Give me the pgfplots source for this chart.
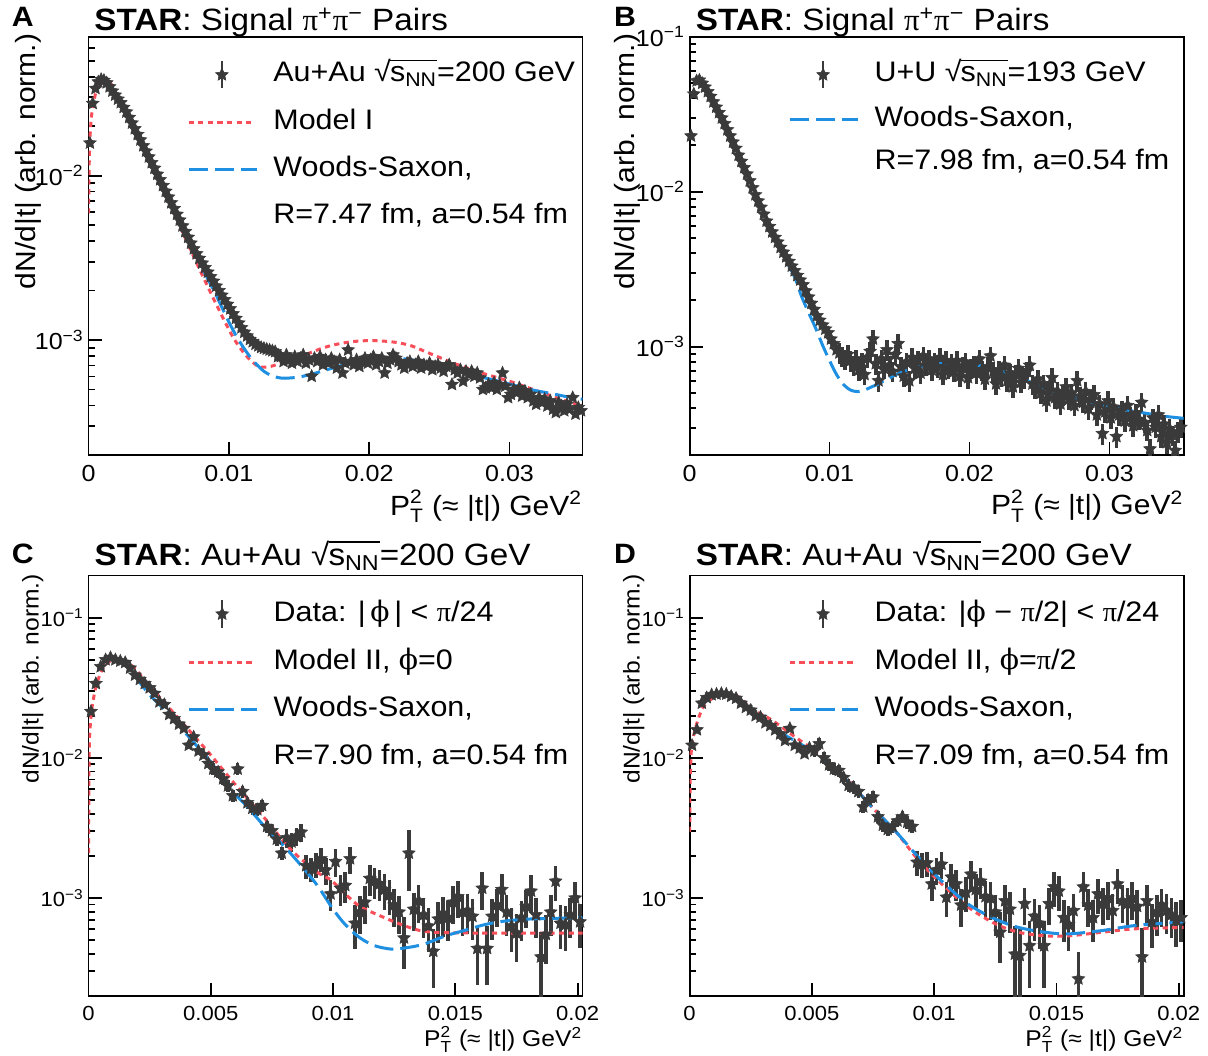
\documentclass[border=0pt]{standalone}
\usepackage{amsmath}
\usepackage{fontspec}
\setmainfont{Liberation Sans}[FakeStretch=1.08]
\newfontfamily\grk{Liberation Serif}
\newfontfamily\phif{DejaVu Serif}
\usepackage{pgfplots}
\pgfplotsset{compat=1.18}
\definecolor{datgray}{HTML}{3A3A3A}
\definecolor{redm}{HTML}{F84E5A}
\definecolor{bluews}{HTML}{1E8FE1}

% filled five-pointed star, like ROOT marker 29
\pgfdeclareplotmark{fstar}{%
  \pgfpathmoveto{\pgfpointpolar{90}{\pgfplotmarksize}}%
  \pgfpathlineto{\pgfpointpolar{126}{0.48\pgfplotmarksize}}%
  \pgfpathlineto{\pgfpointpolar{162}{\pgfplotmarksize}}%
  \pgfpathlineto{\pgfpointpolar{198}{0.48\pgfplotmarksize}}%
  \pgfpathlineto{\pgfpointpolar{234}{\pgfplotmarksize}}%
  \pgfpathlineto{\pgfpointpolar{270}{0.48\pgfplotmarksize}}%
  \pgfpathlineto{\pgfpointpolar{306}{\pgfplotmarksize}}%
  \pgfpathlineto{\pgfpointpolar{342}{0.48\pgfplotmarksize}}%
  \pgfpathlineto{\pgfpointpolar{18}{\pgfplotmarksize}}%
  \pgfpathlineto{\pgfpointpolar{54}{0.48\pgfplotmarksize}}%
  \pgfpathclose
  \pgfusepathqfillstroke}

% sqrt(s_NN) built from the text radical, as ROOT draws it
\newlength\snnw \newlength\snnh
\newcommand{\sNN}{%
  \settowidth{\snnw}{s\textsubscript{NN}}%
  \settoheight{\snnh}{√}%
  √\kern-0.03em\rlap{\rule[\dimexpr\snnh-0.065em\relax]{\snnw}{0.065em}}s\textsubscript{NN}}
\newcommand{\ptlabel}{$\text{P}^{\text{2}}_{\text{T}}$ (≈ |t|) GeV$^{\text{2}}$}
\newcommand{\bigfont}{\fontsize{13.9}{16}\selectfont}
\newcommand{\smallfont}{\fontsize{11.4}{14}\selectfont}
\newcommand{\legfont}{\fontsize{14.1}{17}\selectfont}

\pgfplotsset{
  every axis/.append style={
    scale only axis, width=247pt,
    axis line style={line width=0.9pt},
    tick style={black, line width=0.9pt},
    major tick length=6.5pt, minor tick length=3.3pt,
    tick align=inside, xtick pos=bottom, ytick pos=left,
    scaled x ticks=false,
    xticklabel style={anchor=north, inner sep=0pt, yshift=-5pt},
    yticklabel style={anchor=east, inner sep=0pt, xshift=-2.2pt},
    legend cell align=left,
    legend style={draw=none, fill=none, inner sep=0pt, outer sep=0pt, column sep=0pt,
      anchor=north west, font=\legfont,
      nodes={inner sep=0pt, text height=10.5pt, text depth=3.5pt}},
    xlabel style={anchor=base east, inner sep=0pt},
    ylabel style={anchor=base east, inner sep=0pt},
  },
  datpts/.style={only marks, mark=fstar, mark size=3.3pt, color=datgray,
    mark options={fill=datgray, draw=datgray, line width=0.3pt, solid},
    legend image code/.code={%
      \draw[datgray, line width=1.2pt] (16.7pt,-6.8pt) -- (16.7pt,6.8pt);
      \draw[##1] plot coordinates {(16.7pt,0pt)};
      \path (41.7pt,0pt);},
    error bars/y dir=both, error bars/error mark=none,
    error bars/error bar style={line width=1.8pt, datgray}},
  modred/.style={redm, line width=1.5pt, dash pattern=on 2.6pt off 2.2pt, smooth,
    legend image code/.code={\draw[##1] (0pt,0pt) -- (33.5pt,0pt); \path (41.7pt,0pt);}},
  wsblue/.style={bluews, line width=1.5pt, dash pattern=on 9.5pt off 3.5pt, smooth,
    legend image code/.code={\draw[##1] (0pt,0pt) -- (34pt,0pt); \path (41.7pt,0pt);}},
}

\begin{document}
\begin{tikzpicture}
\useasboundingbox (0pt,0pt) rectangle (604pt,-527.5pt);

% ---------------- A ----------------
\begin{axis}[name=A, at={(44.25pt,-18.35pt)}, anchor=north west, height=209.15pt,
  ymode=log,
  xmin=0, xmax=0.0352, ymin=2e-4, ymax=0.07,
  xtick={0,0.01,0.02,0.03}, xticklabels={0,0.01,0.02,0.03},
  ytick={1e-3,1e-2}, yticklabels={10\textsuperscript{−3},10\textsuperscript{−2}},
  minor ytick={2e-4,3e-4,4e-4,5e-4,6e-4,7e-4,8e-4,9e-4,2e-3,3e-3,4e-3,5e-3,6e-3,7e-3,8e-3,9e-3,2e-2,3e-2,4e-2,5e-2,6e-2},
  tick label style={font=\fontsize{11.6}{14}\selectfont},
  xlabel={\ptlabel}, ylabel={dN/d|t| (arb. norm.)},
  label style={font=\bigfont},
  xlabel style={at={(axis description cs:1,-0.1434)}},
  ylabel style={at={(axis description cs:-0.108,1.008)}},
  legend style={at={(axis description cs:0.1994,0.9443)}, row sep=9.5pt},
]
\addplot[datpts, error bars/y fixed relative=0.04] table {
x y
0.0001 1.58e-2
0.0003 2.75e-2
0.0005 3.39e-2
0.0007 3.72e-2
0.0009 3.85e-2
0.0011 3.80e-2
0.0013 3.67e-2
0.0015 3.47e-2
0.0017 3.27e-2
0.0019 3.09e-2
0.0021 2.92e-2
0.0023 2.78e-2
0.0025 2.60e-2
0.0027 2.44e-2
0.0029 2.26e-2
0.0031 2.09e-2
0.0033 1.93e-2
0.0035 1.78e-2
0.0037 1.65e-2
0.0039 1.52e-2
0.0041 1.41e-2
0.0043 1.30e-2
0.0045 1.20e-2
0.0047 1.11e-2
0.0049 1.02e-2
0.0051 9.44e-3
0.0053 8.71e-3
0.0055 8.04e-3
0.0057 7.41e-3
0.0059 6.84e-3
0.0061 6.31e-3
0.0063 5.82e-3
0.0065 5.37e-3
0.0067 4.95e-3
0.0069 4.57e-3
0.0071 4.22e-3
0.0073 3.89e-3
0.0075 3.59e-3
0.0077 3.35e-3
0.0079 3.14e-3
0.0081 2.94e-3
0.0083 2.76e-3
0.0085 2.59e-3
0.0087 2.43e-3
0.0089 2.28e-3
0.0091 2.13e-3
0.0093 2.00e-3
0.0095 1.875e-3
0.0097 1.76e-3
0.0099 1.65e-3
0.0101 1.55e-3
0.0103 1.445e-3
0.0105 1.355e-3
0.0107 1.27e-3
0.0109 1.19e-3
0.0111 1.117e-3
0.0113 1.06e-3
0.0115 1.01e-3
0.0117 9.77e-4
0.0119 9.44e-4
0.0121 9.23e-4
0.0123 9.02e-4
0.0125 8.91e-4
0.0127 8.81e-4
0.0129 8.71e-4
0.0131 8.61e-4
0.0133 8.51e-4
0.0135 7.94e-4
0.0137 7.94e-4
0.0139 7.41e-4
0.0141 8.13e-4
0.0143 7.59e-4
0.0145 7.24e-4
0.0147 7.94e-4
0.0149 7.41e-4
0.0151 7.76e-4
0.0153 8.13e-4
0.0155 7.24e-4
0.0157 7.59e-4
0.0159 6.03e-4
0.0161 7.76e-4
0.0163 7.41e-4
0.0165 7.94e-4
0.0167 7.08e-4
0.0169 7.59e-4
0.0171 7.24e-4
0.0173 7.76e-4
0.0175 7.41e-4
0.0177 6.76e-4
0.0179 7.59e-4
0.0181 6.31e-4
0.0183 7.24e-4
0.0185 8.71e-4
0.0187 7.41e-4
0.0189 7.08e-4
0.0191 7.59e-4
0.0193 6.92e-4
0.0195 7.41e-4
0.0197 7.76e-4
0.0199 7.24e-4
0.0201 7.59e-4
0.0203 7.94e-4
0.0205 7.08e-4
0.0207 7.41e-4
0.0209 7.76e-4
0.0211 6.31e-4
0.0213 7.24e-4
0.0215 7.59e-4
0.0217 8.13e-4
0.0219 7.76e-4
0.0221 7.41e-4
0.0223 7.08e-4
0.0225 6.76e-4
0.0227 7.24e-4
0.0229 7.41e-4
0.0231 6.92e-4
0.0233 7.08e-4
0.0235 7.41e-4
0.0237 6.76e-4
0.0239 7.08e-4
0.0241 6.92e-4
0.0243 7.24e-4
0.0245 6.61e-4
0.0247 6.92e-4
0.0249 7.08e-4
0.0251 6.76e-4
0.0253 6.46e-4
0.0255 6.92e-4
0.0257 7.08e-4
0.0259 5.37e-4
0.0261 6.61e-4
0.0263 6.31e-4
0.0265 6.61e-4
0.0267 5.62e-4
0.0269 6.46e-4
0.0271 6.17e-4
0.0273 6.46e-4
0.0275 6.03e-4
0.0277 6.31e-4
0.0279 5.89e-4
0.0281 5.01e-4
0.0283 5.13e-4
0.0285 5.37e-4
0.0287 5.13e-4
0.0289 5.50e-4
0.0291 5.01e-4
0.0293 5.37e-4
0.0295 6.31e-4
0.0297 5.25e-4
0.0299 4.47e-4
0.0301 4.68e-4
0.0303 5.01e-4
0.0305 4.79e-4
0.0307 5.13e-4
0.0309 4.57e-4
0.0311 4.90e-4
0.0313 4.47e-4
0.0315 4.68e-4
0.0317 4.27e-4
0.0319 4.07e-4
0.0321 4.47e-4
0.0323 4.17e-4
0.0325 4.37e-4
0.0327 3.98e-4
0.0329 4.27e-4
0.0331 3.80e-4
0.0333 3.63e-4
0.0335 4.17e-4
0.0337 3.98e-4
0.0339 3.72e-4
0.0341 4.07e-4
0.0343 3.80e-4
0.0345 4.47e-4
0.0347 3.55e-4
0.0349 3.89e-4
0.0351 3.72e-4
};
\addlegendentry{Au+Au \sNN=200 GeV}
\addplot[modred] coordinates {
(0,5.89e-3) (0.00002,7.94e-3) (0.00005,1.175e-2) (0.0001,1.66e-2) (0.0002,2.24e-2)
(0.0003,2.57e-2) (0.0005,3.16e-2) (0.0007,3.59e-2) (0.0009,3.80e-2) (0.0011,3.89e-2)
(0.0013,3.85e-2) (0.0016,3.63e-2) (0.002,3.13e-2) (0.003,2.11e-2) (0.004,1.41e-2)
(0.005,9.33e-3) (0.006,6.17e-3) (0.007,3.98e-3) (0.008,2.60e-3) (0.009,1.72e-3)
(0.010,1.16e-3) (0.0105,9.77e-4) (0.011,8.51e-4) (0.0115,7.59e-4) (0.012,7.00e-4)
(0.0123,6.84e-4) (0.013,6.92e-4) (0.014,7.41e-4) (0.015,7.85e-4) (0.016,8.51e-4)
(0.017,9.12e-4) (0.018,9.55e-4) (0.019,9.82e-4) (0.020,9.93e-4) (0.021,9.86e-4)
(0.022,9.66e-4) (0.023,9.23e-4) (0.024,8.51e-4) (0.025,7.85e-4) (0.026,7.24e-4)
(0.027,6.76e-4) (0.028,6.31e-4) (0.029,5.96e-4) (0.030,5.62e-4) (0.031,5.25e-4)
(0.032,4.90e-4) (0.033,4.57e-4) (0.034,4.27e-4) (0.0352,3.98e-4)
};
\addlegendentry{Model I}
\addplot[wsblue] coordinates {
(0.0016,3.51e-2) (0.002,3.02e-2) (0.003,2.065e-2) (0.004,1.41e-2) (0.005,9.55e-3)
(0.006,6.38e-3) (0.007,4.27e-3) (0.008,2.85e-3) (0.009,1.95e-3) (0.0095,1.585e-3)
(0.010,1.29e-3) (0.0105,1.07e-3) (0.011,9.12e-4) (0.0115,7.94e-4) (0.012,7.08e-4)
(0.0125,6.46e-4) (0.013,6.10e-4) (0.0135,5.92e-4) (0.014,5.86e-4) (0.015,5.96e-4)
(0.016,6.24e-4) (0.017,6.61e-4) (0.018,7.00e-4) (0.019,7.33e-4) (0.020,7.62e-4)
(0.021,7.76e-4) (0.022,7.76e-4) (0.023,7.59e-4) (0.024,7.33e-4) (0.025,6.98e-4)
(0.026,6.61e-4) (0.027,6.31e-4) (0.028,5.96e-4) (0.029,5.69e-4) (0.030,5.40e-4)
(0.031,5.13e-4) (0.032,4.90e-4) (0.033,4.73e-4) (0.034,4.54e-4) (0.0352,4.37e-4)
};
\addlegendentry{Woods-Saxon,}
\addlegendimage{empty legend}
\addlegendentry{R=7.47 fm, a=0.54 fm}
\end{axis}

% ---------------- B ----------------
\begin{axis}[name=B, at={(344.8pt,-18.35pt)}, anchor=north west, height=209.15pt,
  ymode=log,
  xmin=0, xmax=0.0353, ymin=2e-4, ymax=0.1,
  xtick={0,0.01,0.02,0.03}, xticklabels={0,0.01,0.02,0.03},
  ytick={1e-3,1e-2,1e-1}, yticklabels={10\textsuperscript{−3},10\textsuperscript{−2},10\textsuperscript{−1}},
  minor ytick={2e-4,3e-4,4e-4,5e-4,6e-4,7e-4,8e-4,9e-4,2e-3,3e-3,4e-3,5e-3,6e-3,7e-3,8e-3,9e-3,2e-2,3e-2,4e-2,5e-2,6e-2,7e-2,8e-2,9e-2},
  tick label style={font=\fontsize{11.6}{14}\selectfont},
  xlabel={\ptlabel}, ylabel={dN/d|t| (arb. norm.)},
  label style={font=\bigfont},
  xlabel style={at={(axis description cs:1,-0.1434)}},
  ylabel style={at={(axis description cs:-0.112,1.008)}},
  legend style={at={(axis description cs:0.1996,0.9443)}, row sep=7.8pt},
]
\addplot[datpts, error bars/y fixed relative=0.04] table {
x y
0.0001 2.29e-2
0.0003 4.27e-2
0.0005 5.19e-2
0.0007 5.25e-2
0.0009 5.01e-2
0.0011 4.73e-2
0.0013 4.42e-2
0.0015 4.12e-2
0.0017 3.80e-2
0.0019 3.51e-2
0.0021 3.24e-2
0.0023 2.99e-2
0.0025 2.75e-2
0.0027 2.51e-2
0.0029 2.29e-2
0.0031 2.09e-2
0.0033 1.905e-2
0.0035 1.72e-2
0.0037 1.57e-2
0.0039 1.43e-2
0.0041 1.30e-2
0.0043 1.175e-2
0.0045 1.06e-2
0.0047 9.55e-3
0.0049 8.71e-3
0.0051 7.94e-3
0.0053 7.16e-3
0.0055 6.46e-3
0.0057 5.96e-3
0.0059 5.50e-3
0.0061 5.07e-3
0.0063 4.73e-3
0.0065 4.37e-3
0.0067 4.07e-3
0.0069 3.80e-3
0.0071 3.55e-3
0.0073 3.31e-3
0.0075 3.09e-3
0.0077 2.88e-3
0.0079 2.69e-3
0.0081 2.51e-3
0.0083 2.29e-3
0.0085 2.09e-3
0.0087 1.905e-3
0.0089 1.74e-3
0.0091 1.585e-3
0.0093 1.48e-3
0.0095 1.38e-3
0.0097 1.30e-3
0.0099 1.23e-3
0.0101 1.12e-3
0.0103 1.047e-3
0.0105 9.55e-4
};
\addlegendentry{U+U \sNN=193 GeV}
\addplot[datpts, forget plot, error bars/y fixed relative=0.15] table {
x y
0.0107 9.12e-4
0.0109 8.71e-4
0.0111 8.32e-4
0.0113 8.91e-4
0.0115 8.13e-4
0.0117 7.59e-4
0.0119 8.32e-4
0.0121 7.08e-4
0.0123 7.94e-4
0.0125 6.61e-4
0.0127 8.51e-4
0.0129 9.33e-4
0.0131 1.12e-3
0.0133 7.76e-4
0.0135 6.03e-4
0.0137 8.32e-4
0.0139 7.24e-4
0.0141 9.55e-4
0.0143 7.59e-4
0.0145 6.92e-4
0.0147 8.91e-4
0.0149 1.047e-3
0.0151 7.41e-4
0.0153 6.46e-4
0.0155 7.94e-4
0.0157 6.03e-4
0.0159 8.51e-4
0.0161 7.24e-4
0.0163 8.13e-4
0.0165 6.76e-4
0.0167 8.71e-4
0.0169 7.59e-4
0.0171 8.32e-4
0.0173 7.08e-4
0.0175 7.94e-4
0.0177 7.41e-4
0.0179 8.51e-4
0.0181 6.61e-4
0.0183 8.13e-4
0.0185 7.24e-4
0.0187 7.76e-4
0.0189 6.92e-4
0.0191 8.13e-4
0.0193 6.46e-4
0.0195 7.41e-4
0.0197 7.94e-4
0.0199 6.31e-4
0.0201 7.24e-4
0.0203 7.59e-4
0.0205 6.76e-4
0.0207 8.32e-4
0.0209 7.08e-4
0.0211 6.17e-4
0.0213 7.41e-4
0.0215 8.71e-4
0.0217 6.92e-4
0.0219 5.75e-4
0.0221 7.08e-4
0.0223 6.46e-4
0.0225 7.59e-4
0.0227 6.03e-4
0.0229 6.76e-4
0.0231 5.50e-4
0.0233 6.61e-4
0.0235 7.24e-4
0.0237 5.89e-4
0.0239 6.31e-4
0.0241 6.92e-4
0.0243 7.59e-4
0.0245 5.75e-4
0.0247 5.37e-4
0.0249 6.17e-4
0.0251 5.01e-4
0.0253 5.75e-4
0.0255 4.47e-4
0.0257 5.25e-4
0.0259 6.31e-4
0.0261 4.68e-4
0.0263 5.13e-4
0.0265 4.27e-4
0.0267 4.90e-4
0.0269 5.50e-4
0.0271 4.57e-4
0.0273 5.01e-4
0.0275 4.17e-4
0.0277 6.03e-4
0.0279 4.79e-4
0.0281 4.37e-4
0.0283 5.13e-4
0.0285 3.98e-4
0.0287 4.57e-4
0.0289 4.90e-4
0.0291 3.63e-4
0.0293 4.27e-4
0.0295 2.75e-4
0.0297 3.80e-4
0.0299 4.47e-4
0.0301 3.47e-4
0.0303 4.07e-4
0.0305 2.63e-4
0.0307 3.63e-4
0.0309 3.89e-4
0.0311 3.31e-4
0.0313 4.17e-4
0.0315 3.55e-4
0.0317 3.09e-4
0.0319 3.72e-4
0.0321 3.39e-4
0.0323 4.37e-4
0.0325 3.24e-4
0.0327 2.88e-4
0.0329 2.19e-4
0.0331 3.47e-4
0.0333 3.02e-4
0.0335 3.63e-4
0.0337 2.63e-4
0.0339 3.16e-4
0.0341 2.40e-4
0.0343 2.95e-4
0.0345 2.69e-4
0.0347 2.14e-4
0.0349 2.82e-4
0.0351 3.02e-4
};
\addplot[wsblue] coordinates {
(0.0006,5.31e-2) (0.001,4.68e-2) (0.002,3.31e-2) (0.003,2.16e-2) (0.004,1.365e-2)
(0.005,8.51e-3) (0.006,5.37e-3) (0.007,3.43e-3) (0.0075,2.82e-3) (0.008,2.11e-3)
(0.0085,1.66e-3) (0.009,1.32e-3) (0.0095,1.023e-3) (0.010,8.13e-4) (0.0105,6.61e-4)
(0.011,5.69e-4) (0.0115,5.25e-4) (0.012,5.13e-4) (0.0125,5.25e-4) (0.013,5.50e-4)
(0.0135,5.75e-4) (0.014,6.10e-4) (0.015,6.76e-4) (0.016,7.24e-4) (0.017,7.59e-4)
(0.018,7.82e-4) (0.019,7.87e-4) (0.020,7.76e-4) (0.021,7.45e-4) (0.022,7.08e-4)
(0.023,6.61e-4) (0.024,6.10e-4) (0.025,5.56e-4) (0.026,5.19e-4) (0.027,4.84e-4)
(0.028,4.57e-4) (0.029,4.32e-4) (0.030,4.12e-4) (0.031,3.94e-4) (0.032,3.80e-4)
(0.033,3.67e-4) (0.034,3.55e-4) (0.0353,3.45e-4)
};
\addlegendentry{Woods-Saxon,}
\addlegendimage{empty legend}
\addlegendentry{R=7.98 fm, a=0.54 fm}
\end{axis}

% ---------------- C ----------------
\begin{axis}[name=C, at={(44.25pt,-287.7pt)}, anchor=north west, height=210.3pt,
  ymode=log,
  xmin=0, xmax=0.0202, ymin=2e-4, ymax=0.2,
  xtick={0,0.005,0.01,0.015,0.02}, xticklabels={0,0.005,0.01,0.015,0.02},
  ytick={1e-3,1e-2,1e-1}, yticklabels={10\textsuperscript{−3},10\textsuperscript{−2},10\textsuperscript{−1}},
  minor ytick={2e-4,3e-4,4e-4,5e-4,6e-4,7e-4,8e-4,9e-4,2e-3,3e-3,4e-3,5e-3,6e-3,7e-3,8e-3,9e-3,2e-2,3e-2,4e-2,5e-2,6e-2,7e-2,8e-2,9e-2},
  tick label style={font=\fontsize{10.2}{12}\selectfont},
  xlabel={\ptlabel}, ylabel={dN/d|t| (arb. norm.)},
  label style={font=\smallfont},
  xlabel style={at={(axis description cs:1,-0.121)}},
  ylabel style={at={(axis description cs:-0.101,1.004)}},
  legend style={at={(axis description cs:0.2,0.9434)}, row sep=9.7pt},
]
\addplot[datpts, error bars/y fixed relative=0.04] table {
x y
0.0001 2.14e-2
0.0003 3.39e-2
0.0005 4.47e-2
0.0007 5.01e-2
0.0009 5.19e-2
0.0011 5.01e-2
0.0013 4.90e-2
0.0015 4.79e-2
0.0017 4.37e-2
0.0019 3.89e-2
0.0021 3.63e-2
0.0023 3.39e-2
0.0025 3.16e-2
0.0027 2.88e-2
0.0029 2.51e-2
0.0031 2.40e-2
0.0033 2.04e-2
0.0035 1.905e-2
0.0037 1.74e-2
0.0039 1.62e-2
0.0041 1.23e-2
0.0043 1.41e-2
0.0045 1.12e-2
0.0047 1.047e-2
0.0049 9.12e-3
};
\addlegendentry{Data: |\,{\phif ϕ}\,| < {\grk π}/24}
\addplot[datpts, forget plot, error bars/y fixed relative=0.1] table {
x y
0.0051 8.32e-3
0.0053 7.94e-3
0.0055 7.08e-3
0.0057 6.31e-3
0.0059 5.37e-3
0.0061 8.32e-3
0.0063 5.75e-3
0.0065 4.79e-3
0.0067 4.37e-3
0.0069 4.27e-3
0.0071 4.57e-3
0.0073 3.24e-3
0.0075 3.02e-3
0.0077 2.63e-3
0.0079 2.09e-3
};
\addplot[datpts, forget plot, error bars/y explicit relative] table[x=x, y=y, y error=e] {
x y e
0.0081 2.69e-3 0.15
0.0083 2.51e-3 0.15
0.0085 2.75e-3 0.15
0.0087 2.95e-3 0.15
0.0089 1.70e-3 0.2
0.0091 1.62e-3 0.2
0.0093 1.74e-3 0.2
0.0095 1.905e-3 0.2
0.0097 1.585e-3 0.22
0.0099 1.07e-3 0.25
0.0101 1.82e-3 0.22
0.0103 1.175e-3 0.25
0.0105 1.23e-3 0.25
0.0107 1.905e-3 0.22
0.0109 6.61e-4 0.35
0.0111 7.94e-4 0.3
0.0113 9.33e-4 0.3
0.0115 1.38e-3 0.25
0.0117 1.32e-3 0.25
0.0119 1.26e-3 0.25
0.0121 1.15e-3 0.28
0.0123 1.047e-3 0.28
0.0125 8.91e-4 0.3
0.0127 7.94e-4 0.3
0.0129 5.19e-4 0.4
0.0131 2.09e-3 0.46
0.0133 8.32e-4 0.3
0.0135 9.55e-4 0.3
0.0137 7.59e-4 0.32
0.0139 6.31e-4 0.35
0.0141 4.17e-4 0.45
0.0143 7.08e-4 0.32
0.0145 7.76e-4 0.32
0.0147 7.24e-4 0.32
0.0149 9.33e-4 0.3
0.0151 1.023e-3 0.3
0.0153 7.94e-4 0.32
0.0155 8.13e-4 0.32
0.0157 7.41e-4 0.32
0.0159 4.37e-4 0.45
0.0161 1.175e-3 0.3
0.0163 4.37e-4 0.45
0.0165 7.41e-4 0.32
0.0167 8.91e-4 0.3
0.0169 1.15e-3 0.3
0.0171 7.94e-4 0.32
0.0173 6.31e-4 0.35
0.0175 5.62e-4 0.38
0.0177 7.24e-4 0.32
0.0179 8.71e-4 0.3
0.0181 1.12e-3 0.3
0.0183 7.59e-4 0.32
0.0185 3.80e-4 0.5
0.0187 5.50e-4 0.38
0.0189 7.94e-4 0.32
0.0191 1.32e-3 0.28
0.0193 6.61e-4 0.35
0.0195 6.46e-4 0.35
0.0197 7.59e-4 0.32
0.0199 1.00e-3 0.3
0.0201 6.76e-4 0.35
};
\addplot[modred] coordinates {
(0,2.09e-3) (0.00001,3.98e-3) (0.00002,7.94e-3) (0.00004,1.35e-2) (0.00013,2.19e-2)
(0.00034,3.39e-2) (0.00067,4.57e-2) (0.00115,5.13e-2) (0.0015,4.90e-2) (0.0019,4.34e-2)
(0.0025,3.24e-2) (0.00326,2.31e-2) (0.00435,1.41e-2) (0.005,1.047e-2) (0.00585,6.92e-3)
(0.0065,5.13e-3) (0.00722,3.68e-3) (0.0083,2.19e-3) (0.0094,1.51e-3) (0.0099,1.35e-3)
(0.0105,1.07e-3) (0.0111,8.71e-4) (0.0121,7.24e-4) (0.0128,6.46e-4) (0.0135,5.89e-4)
(0.0142,5.69e-4) (0.016,5.62e-4) (0.018,5.62e-4) (0.0202,5.62e-4)
};
\addlegendentry{Model II, {\phif ϕ}=0}
\addplot[wsblue] coordinates {
(0.00108,5.13e-2) (0.0015,4.68e-2) (0.0019,3.82e-2) (0.0025,2.82e-2) (0.00326,2.07e-2)
(0.00435,1.26e-2) (0.005,9.33e-3) (0.00585,5.89e-3) (0.0065,4.47e-3) (0.00722,3.21e-3)
(0.00803,2.31e-3) (0.00885,1.585e-3) (0.0094,1.20e-3) (0.010,8.32e-4) (0.0105,6.46e-4)
(0.0111,5.20e-4) (0.0117,4.57e-4) (0.0124,4.32e-4) (0.013,4.42e-4) (0.0137,4.68e-4)
(0.0146,5.37e-4) (0.0154,5.89e-4) (0.0162,6.46e-4) (0.017,6.84e-4) (0.018,7.08e-4)
(0.019,7.16e-4) (0.0202,7.24e-4)
};
\addlegendentry{Woods-Saxon,}
\addlegendimage{empty legend}
\addlegendentry{R=7.90 fm, a=0.54 fm}
\end{axis}

% ---------------- D ----------------
\begin{axis}[name=D, at={(344.8pt,-287.7pt)}, anchor=north west, height=210.3pt,
  ymode=log,
  xmin=0, xmax=0.0202, ymin=2e-4, ymax=0.2,
  xtick={0,0.005,0.01,0.015,0.02}, xticklabels={0,0.005,0.01,0.015,0.02},
  ytick={1e-3,1e-2,1e-1}, yticklabels={10\textsuperscript{−3},10\textsuperscript{−2},10\textsuperscript{−1}},
  minor ytick={2e-4,3e-4,4e-4,5e-4,6e-4,7e-4,8e-4,9e-4,2e-3,3e-3,4e-3,5e-3,6e-3,7e-3,8e-3,9e-3,2e-2,3e-2,4e-2,5e-2,6e-2,7e-2,8e-2,9e-2},
  tick label style={font=\fontsize{10.2}{12}\selectfont},
  xlabel={\ptlabel}, ylabel={dN/d|t| (arb. norm.)},
  label style={font=\smallfont},
  xlabel style={at={(axis description cs:1,-0.121)}},
  ylabel style={at={(axis description cs:-0.101,1.004)}},
  legend style={at={(axis description cs:0.1996,0.9434)}, row sep=9.7pt},
]
\addplot[datpts, error bars/y fixed relative=0.04] table {
x y
0.0001 1.23e-2
0.0003 1.585e-2
0.0005 2.455e-2
0.0007 2.69e-2
0.0009 2.82e-2
0.0011 2.85e-2
0.0013 2.88e-2
0.0015 2.85e-2
0.0017 2.75e-2
0.0019 2.66e-2
0.0021 2.455e-2
0.0023 2.29e-2
0.0025 2.19e-2
0.0027 2.00e-2
0.0029 1.95e-2
0.0031 1.78e-2
0.0033 1.70e-2
0.0035 1.585e-2
0.0037 1.48e-2
0.0039 1.33e-2
0.0041 1.62e-2
0.0043 1.23e-2
0.0045 1.175e-2
0.0047 1.07e-2
0.0049 1.175e-2
};
\addlegendentry{Data: |{\phif ϕ} − {\grk π}/2| < {\grk π}/24}
\addplot[datpts, forget plot, error bars/y fixed relative=0.1] table {
x y
0.0051 1.12e-2
0.0053 1.26e-2
0.0055 1.00e-2
0.0057 8.91e-3
0.0059 8.32e-3
0.0061 8.13e-3
0.0063 7.24e-3
0.0065 6.37e-3
0.0067 6.17e-3
0.0069 5.75e-3
0.0071 4.47e-3
0.0073 5.01e-3
0.0075 5.25e-3
0.0077 3.80e-3
0.0079 3.31e-3
0.0081 3.09e-3
0.0083 3.24e-3
0.0085 3.55e-3
0.0087 3.80e-3
0.0089 3.47e-3
0.0091 3.24e-3
};
\addplot[datpts, forget plot, error bars/y explicit relative] table[x=x, y=y, y error=e] {
x y e
0.0093 1.80e-3 0.2
0.0095 1.74e-3 0.2
0.0097 1.78e-3 0.2
0.0099 1.26e-3 0.25
0.0101 1.585e-3 0.22
0.0103 1.74e-3 0.22
0.0105 1.014e-3 0.28
0.0107 1.41e-3 0.25
0.0109 1.26e-3 0.25
0.0111 8.91e-4 0.3
0.0113 1.096e-3 0.28
0.0115 1.48e-3 0.25
0.0117 1.15e-3 0.28
0.0119 1.32e-3 0.25
0.0121 1.023e-3 0.3
0.0123 1.00e-3 0.3
0.0125 7.94e-4 0.32
0.0127 5.70e-4 0.4
0.0129 9.55e-4 0.3
0.0131 8.32e-4 0.32
0.0133 3.98e-4 0.6
0.0135 3.89e-4 0.6
0.0137 9.12e-4 0.3
0.0139 4.57e-4 0.5
0.0141 7.41e-4 0.33
0.0143 6.61e-4 0.35
0.0145 4.57e-4 0.5
0.0147 9.12e-4 0.3
0.0149 1.20e-3 0.28
0.0151 1.12e-3 0.28
0.0153 7.24e-4 0.33
0.0155 6.46e-4 0.35
0.0157 8.13e-4 0.32
0.0159 2.65e-4 0.55
0.0161 1.20e-3 0.28
0.0163 8.91e-4 0.3
0.0165 7.24e-4 0.33
0.0167 1.07e-3 0.28
0.0169 9.12e-4 0.3
0.0171 1.00e-3 0.3
0.0173 8.13e-4 0.32
0.0175 1.26e-3 0.28
0.0177 9.55e-4 0.3
0.0179 9.12e-4 0.3
0.0181 1.00e-3 0.3
0.0183 8.71e-4 0.3
0.0185 3.80e-4 0.6
0.0187 9.55e-4 0.3
0.0189 6.76e-4 0.35
0.0191 7.94e-4 0.32
0.0193 8.91e-4 0.3
0.0195 8.13e-4 0.32
0.0197 7.59e-4 0.32
0.0199 6.92e-4 0.35
0.0201 7.24e-4 0.33
};
\addplot[modred] coordinates {
(0,2.97e-3) (0.00001,3.98e-3) (0.00002,6.31e-3) (0.00005,9.55e-3) (0.0001,1.26e-2)
(0.00029,1.75e-2) (0.00056,2.31e-2) (0.0009,2.63e-2) (0.00145,2.88e-2) (0.002,2.72e-2)
(0.00254,2.24e-2) (0.00336,1.86e-2) (0.00431,1.41e-2) (0.00527,1.07e-2) (0.00649,6.92e-3)
(0.00745,4.47e-3) (0.0084,3.02e-3) (0.00936,1.86e-3) (0.01031,1.26e-3) (0.0114,8.59e-4)
(0.0125,6.55e-4) (0.01345,5.70e-4) (0.01454,5.37e-4) (0.01549,5.37e-4) (0.01686,5.70e-4)
(0.01823,6.03e-4) (0.0202,6.17e-4)
};
\addlegendentry{Model II, {\phif ϕ}={\grk π}/2}
\addplot[wsblue] coordinates {
(0.00193,2.72e-2) (0.00254,2.19e-2) (0.00336,1.66e-2) (0.00431,1.32e-2) (0.00527,1.047e-2)
(0.00649,6.76e-3) (0.00745,4.47e-3) (0.0084,3.02e-3) (0.00936,1.95e-3) (0.01031,1.32e-3)
(0.0114,9.02e-4) (0.0125,7.08e-4) (0.01345,6.17e-4) (0.01454,5.70e-4) (0.01549,5.55e-4)
(0.01686,5.86e-4) (0.01823,6.37e-4) (0.0202,6.76e-4)
};
\addlegendentry{Woods-Saxon,}
\addlegendimage{empty legend}
\addlegendentry{R=7.09 fm, a=0.54 fm}
\end{axis}

% panel letters and titles
\begin{scope}[every node/.style={anchor=base west, inner sep=0pt}]
\node[font=\bfseries\fontsize{14}{17}\selectfont] at (5.75pt,-13pt) {A};
\node[font=\bfseries\fontsize{14}{17}\selectfont] at (306.8pt,-13pt) {B};
\node[font=\bfseries\fontsize{14}{17}\selectfont] at (5.75pt,-281.85pt) {C};
\node[font=\bfseries\fontsize{14}{17}\selectfont] at (306.8pt,-281.85pt) {D};
\node[font=\fontsize{15.4}{18}\selectfont] at (47pt,-15.25pt)
  {\textbf{STAR}: Signal {\grk π}\textsuperscript{+}{\grk π}\textsuperscript{−} Pairs};
\node[font=\fontsize{15.4}{18}\selectfont] at (347.7pt,-15.25pt)
  {\textbf{STAR}: Signal {\grk π}\textsuperscript{+}{\grk π}\textsuperscript{−} Pairs};
\node[font=\fontsize{15.4}{18}\selectfont] at (47.1pt,-282.7pt)
  {\textbf{STAR}: Au+Au \sNN=200 GeV};
\node[font=\fontsize{15.4}{18}\selectfont] at (347.7pt,-282.7pt)
  {\textbf{STAR}: Au+Au \sNN=200 GeV};
\end{scope}
\end{tikzpicture}
\end{document}
